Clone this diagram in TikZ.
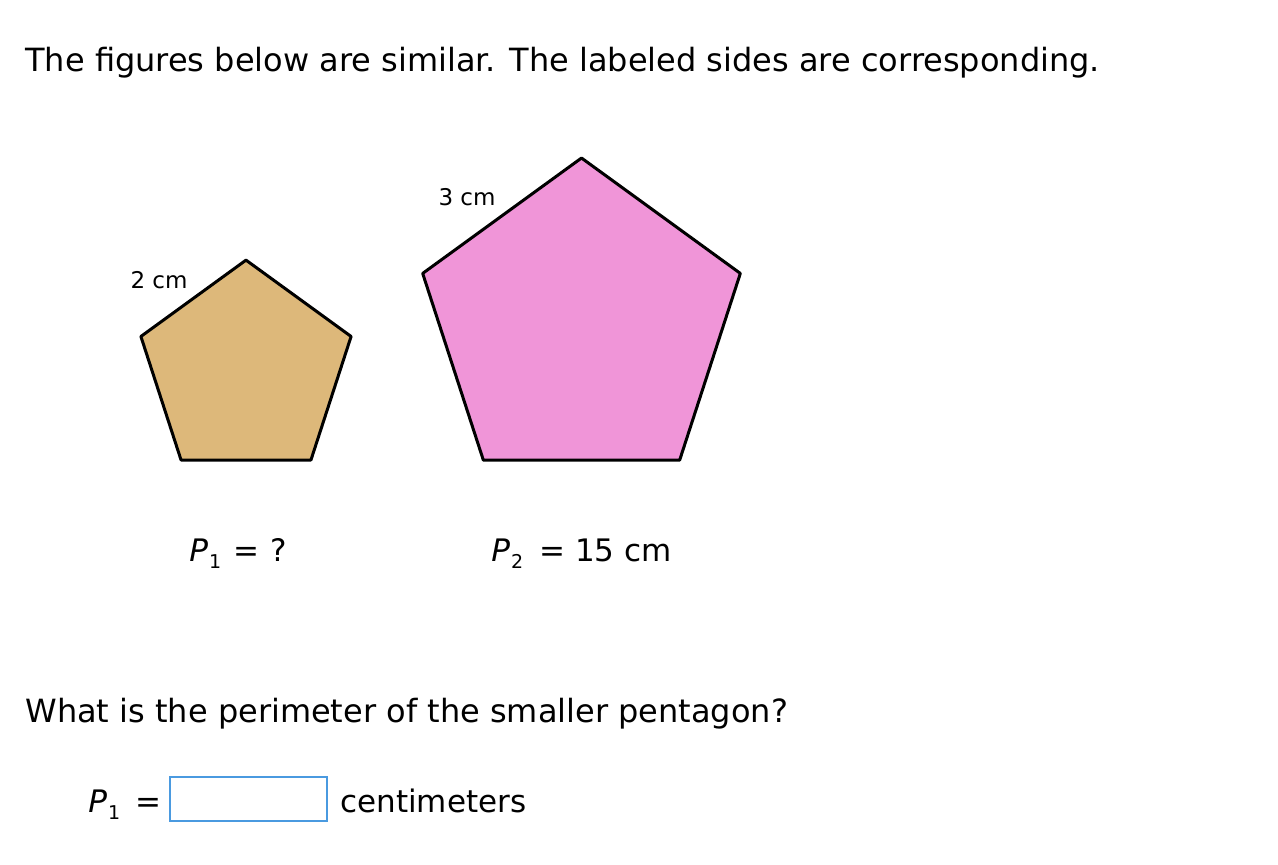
\documentclass[tikz,border=0pt]{standalone}
\usepackage{fontspec}
\setmainfont{DejaVu Sans}
\usetikzlibrary{shapes.geometric}

\definecolor{tan}{RGB}{221,184,122}
\definecolor{pinkfill}{RGB}{240,149,216}
\definecolor{boxblue}{RGB}{74,154,224}

\tikzset{
  pentagon/.style={regular polygon, regular polygon sides=5, draw=black,
    line width=1.5pt, inner sep=0pt, line join=round},
  bigtext/.style={anchor=base west, inner sep=0pt, font=\fontsize{16}{20}\selectfont},
  sidelabel/.style={inner sep=0pt, font=\fontsize{11.5}{14}\selectfont},
  perim/.style={anchor=base west, inner sep=0pt, font=\fontsize{15.5}{19}\selectfont},
  answerbox/.style={draw=boxblue, line width=0.75pt, minimum width=78.5pt,
    minimum height=22pt, inner sep=0pt}
}

\newcommand{\Psub}[1]{\textit{P}\kern0.5pt\raisebox{-3.5pt}{\fontsize{9.5}{11}\selectfont #1}}

\begin{document}
\begin{tikzpicture}[x=0.5pt, y=-0.5pt]
  \useasboundingbox (0,0) rectangle (1278,864);

  \node[bigtext] (intro) at (25,71) {The figures below are similar. The labeled sides are corresponding.};

  % the two pentagons
  \node[pentagon, fill=tan, minimum size=110.5pt] (small) at (246,370.6) {};
  \node[pentagon, fill=pinkfill, minimum size=167pt] (large) at (581.5,325) {};

  \node[sidelabel] (two) at (159,280) {2 cm};
  \node[sidelabel] (three) at (467,197) {3 cm};

  \node[perim] (pone) at (189,561) {\Psub{1}\hspace{6pt}=\hspace{5.5pt}?};
  \node[perim] (ptwo) at (491,561) {\Psub{2}\hspace{8pt}=\hspace{5pt}15 cm};

  \node[bigtext] (question) at (25,722) {What is the perimeter of the smaller pentagon?};

  \node[perim] (pans) at (88,812) {\Psub{1}\hspace{7.5pt}=};
  \node[answerbox] (box) at (248.5,799) {};
  \node[perim] (unit) at (340,812) {centimeters};
\end{tikzpicture}
\end{document}
